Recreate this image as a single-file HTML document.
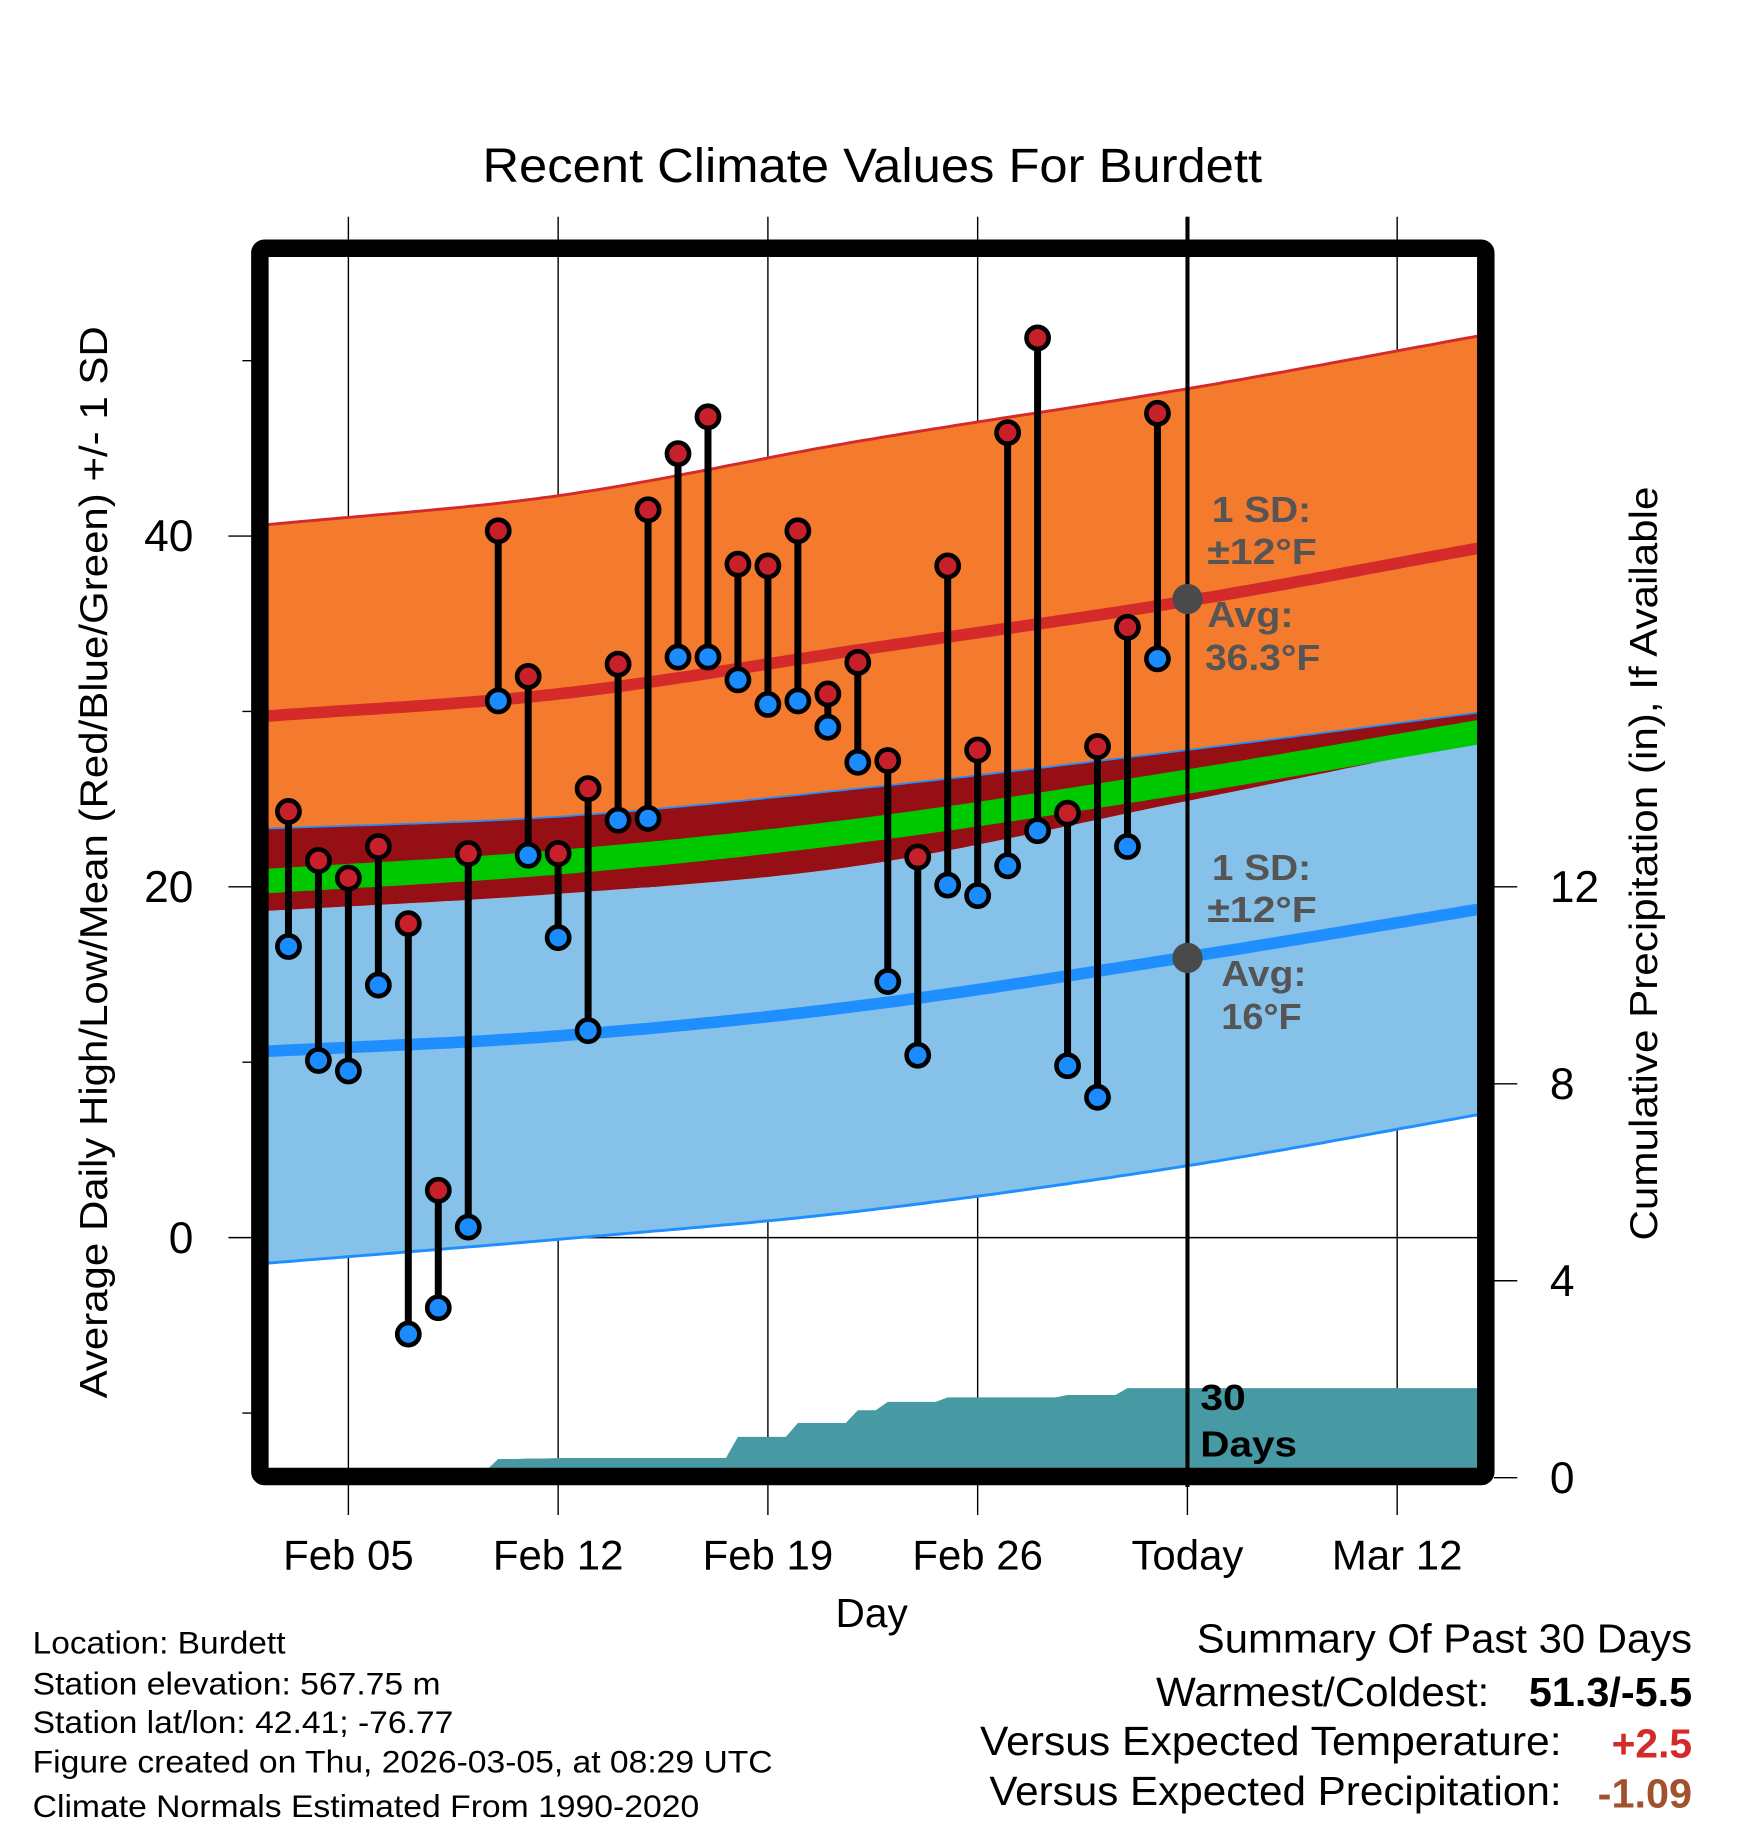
<!DOCTYPE html>
<html><head><meta charset="utf-8"><style>
html,body{margin:0;padding:0;background:#fff;}
svg{display:block;font-family:"Liberation Sans",Arial,sans-serif;}
</style></head><body>
<svg id="chart" width="1748" height="1828" viewBox="0 0 1500 1568.6" preserveAspectRatio="none" xmlns="http://www.w3.org/2000/svg">
<defs><clipPath id="plotclip"><rect x="230" y="220" width="1038" height="1040"/></clipPath></defs>
<text x="414" y="156" font-size="41" textLength="669" lengthAdjust="spacingAndGlyphs">Recent Climate Values For Burdett</text>
<g id="grid"></g>
<g id="bands" clip-path="url(#plotclip)"></g>
<g id="precip" clip-path="url(#plotclip)"></g>
<line x1="1019" y1="186" x2="1019" y2="1276" stroke="#000" stroke-width="3.5"/>
<g id="annot" font-weight="bold" font-size="31" fill="#555" lengthAdjust="spacingAndGlyphs">
<text x="1040" y="448" textLength="85" lengthAdjust="spacingAndGlyphs">1 SD:</text>
<text x="1036" y="484" textLength="94" lengthAdjust="spacingAndGlyphs">±12°F</text>
<circle cx="1019" cy="514" r="13" fill="#4a4a4a"/>
<text x="1036" y="538" textLength="74" lengthAdjust="spacingAndGlyphs">Avg:</text>
<text x="1034" y="575" textLength="99" lengthAdjust="spacingAndGlyphs">36.3°F</text>
<text x="1040" y="755" textLength="85" lengthAdjust="spacingAndGlyphs">1 SD:</text>
<text x="1036" y="791" textLength="94" lengthAdjust="spacingAndGlyphs">±12°F</text>
<circle cx="1019" cy="822" r="13" fill="#4a4a4a"/>
<text x="1048" y="846" textLength="73" lengthAdjust="spacingAndGlyphs">Avg:</text>
<text x="1048" y="883" textLength="69" lengthAdjust="spacingAndGlyphs">16°F</text>
<text x="1030" y="1210" fill="#000" textLength="39" lengthAdjust="spacingAndGlyphs">30</text>
<text x="1030" y="1250" fill="#000" textLength="83" lengthAdjust="spacingAndGlyphs">Days</text>
</g>
<g id="obs"></g>
<rect x="223" y="213" width="1052" height="1054" fill="none" stroke="#000" stroke-width="15" rx="4"/>
<g id="axes"></g>
<text x="717" y="1396" font-size="35" textLength="62" lengthAdjust="spacingAndGlyphs">Day</text>
<text transform="translate(92,740) rotate(-90)" font-size="33" text-anchor="middle" textLength="920" lengthAdjust="spacingAndGlyphs">Average Daily High/Low/Mean (Red/Blue/Green) +/- 1 SD</text>
<text transform="translate(1422,741) rotate(-90)" font-size="33" text-anchor="middle" textLength="647" lengthAdjust="spacingAndGlyphs">Cumulative Precipitation (in), If Available</text>
<g font-size="27">
<text x="28" y="1419" textLength="217" lengthAdjust="spacingAndGlyphs">Location: Burdett</text>
<text x="28" y="1454" textLength="350" lengthAdjust="spacingAndGlyphs">Station elevation: 567.75 m</text>
<text x="28" y="1487" textLength="361" lengthAdjust="spacingAndGlyphs">Station lat/lon: 42.41; -76.77</text>
<text x="28" y="1521" textLength="635" lengthAdjust="spacingAndGlyphs">Figure created on Thu, 2026-03-05, at 08:29 UTC</text>
<text x="28" y="1559" textLength="572" lengthAdjust="spacingAndGlyphs">Climate Normals Estimated From 1990-2020</text>
</g>
<g font-size="35">
<text x="1027" y="1418" textLength="425" lengthAdjust="spacingAndGlyphs">Summary Of Past 30 Days</text>
<text x="992" y="1464" textLength="286" lengthAdjust="spacingAndGlyphs">Warmest/Coldest:</text>
<text x="1312" y="1464" font-weight="bold" textLength="140" lengthAdjust="spacingAndGlyphs">51.3/-5.5</text>
<text x="841" y="1506" textLength="499" lengthAdjust="spacingAndGlyphs">Versus Expected Temperature:</text>
<text x="1383" y="1508" font-weight="bold" fill="#d42a2a" textLength="69" lengthAdjust="spacingAndGlyphs">+2.5</text>
<text x="849" y="1549" textLength="491" lengthAdjust="spacingAndGlyphs">Versus Expected Precipitation:</text>
<text x="1371" y="1551" font-weight="bold" fill="#a0522d" textLength="81" lengthAdjust="spacingAndGlyphs">-1.09</text>
</g>
</svg>
<script>
// Observed data, days since Feb 1 (Feb 3 = 2)
const obsDays = [2,3,4,5,6,7,8,9,10,11,12,13,14,15,16,17,18,19,20,21,22,23,24,25,26,27,28,29,30,31];
const highs = [24.3,21.5,20.5,22.3,17.9,2.7,21.9,40.3,32.0,21.9,25.6,32.7,41.5,44.7,46.8,38.4,38.3,40.3,31.0,32.8,27.2,21.7,38.3,27.8,45.9,51.3,24.2,28.0,34.8,47.0];
const lows = [16.6,10.1,9.5,14.4,-5.5,-4.0,0.6,30.6,21.8,17.1,11.8,23.8,23.9,33.1,33.1,31.8,30.4,30.6,29.1,27.1,14.6,10.4,20.1,19.5,21.2,23.2,9.8,8.0,22.3,33.0];
const precipCum = [0.15,0.15,0.15,0.15,0.15,0.15,0.15,0.38,0.39,0.40,0.40,0.40,0.40,0.40,0.40,0.83,0.83,1.11,1.11,1.37,1.54,1.54,1.63,1.63,1.63,1.63,1.68,1.68,1.82,1.82];
// Normals knots
const normDays = [1,11,21,32,42];
const hiTop = [40.6,42.3,45.4,48.4,51.5];
const hiAvg = [29.7,31.0,33.5,36.3,39.4];
const hiBot = [23.3,24.0,25.6,27.8,30.0];
const meanAvg = [20.3,21.4,23.2,26.0,28.9];
const loTop = [18.6,19.6,21.2,24.9,28.4];
const loAvg = [10.6,11.5,13.2,16.0,18.8];
const loBot = [-1.5,-0.1,1.5,4.1,7.1];
// Axis ticks
const xTickDays = [4,11,18,25,32,39];
const xTickLabels = ["Feb 05","Feb 12","Feb 19","Feb 26","Today","Mar 12"];
const yTicks = [0,20,40];
const yMinorTicks = [-10,10,30,50];
const y2Ticks = [0,4,8,12];

const X = d => 196.1 + d*25.714;
const Y = t => 1062 - t*15.05;
const Y2 = p => 1268 - p*42.25;
const NS = "http://www.w3.org/2000/svg";
function mk(tag, attrs, parent){const e=document.createElementNS(NS,tag);for(const k in attrs)e.setAttribute(k,attrs[k]);parent.appendChild(e);return e;}
function interp(vals,d){
  const n=normDays.length;let i=0;while(i<n-2&&d>normDays[i+1])i++;
  const x0=normDays[i],x1=normDays[i+1],h=x1-x0,t=(d-x0)/h;
  const tan=j=>{if(j===0)return (vals[1]-vals[0])/(normDays[1]-normDays[0]);if(j===n-1)return (vals[n-1]-vals[n-2])/(normDays[n-1]-normDays[n-2]);return (vals[j+1]-vals[j-1])/(normDays[j+1]-normDays[j-1]);};
  const m0=tan(i)*h,m1=tan(i+1)*h,t2=t*t,t3=t2*t;
  return (2*t3-3*t2+1)*vals[i]+(t3-2*t2+t)*m0+(-2*t3+3*t2)*vals[i+1]+(t3-t2)*m1;
}
const samp=[];for(let d=1;d<=42.01;d+=0.25)samp.push(d);
function linePts(vals,off){return samp.map(d=>X(d).toFixed(1)+","+Y(interp(vals,d)+(off||0)).toFixed(1));}
function band(top,bot,fill,o1,o2,name){
  const p=linePts(top,o1).concat(linePts(bot,o2).reverse());
  const e=mk("polygon",{points:p.join(" "),fill:fill},bands);
  
  
}
function line(vals,stroke,w,name){
  const e=mk("polyline",{points:linePts(vals).join(" "),fill:"none",stroke:stroke,"stroke-width":w},bands);
  
  
}
const bands=document.getElementById("bands");
band(hiTop,hiBot,"#f47a2e",0,0,"high-sd-band");
band(loTop,loBot,"#85c1e9",0,0,"low-sd-band");
band(hiBot,loTop,"#960f14",0,0,"overlap-band");
band(meanAvg,meanAvg,"#00c800",0.7,-0.7,"mean-band");
line(hiTop,"#d42a2a",2.5,"high-sd-top-line");
line(hiBot,"#1f8fff",1.5,"high-sd-bottom-line");
line(loBot,"#1f8fff",2.5,"low-sd-bottom-line");
line(hiAvg,"#d42a2a",10,"high-avg-line");
line(loAvg,"#1f8fff",10,"low-avg-line");

// precip step area
const pg=document.getElementById("precip");
let pp=[X(obsDays[0]-0.5)+","+Y2(0)];
obsDays.forEach((d,i)=>{pp.push(X(d-0.4)+","+Y2(i?precipCum[i-1]:0));pp.push(X(d)+","+Y2(precipCum[i]));});
pp.push(X(42)+","+Y2(precipCum[precipCum.length-1]));pp.push(X(42)+","+Y2(0));
const pa=mk("polygon",{points:pp.join(" "),fill:"#4799a3"},pg);



// grid + axes
const grid=document.getElementById("grid"),axes=document.getElementById("axes");
xTickDays.forEach((d,i)=>{
  const g=mk("line",{x1:X(d),x2:X(d),y1:186,y2:1300,stroke:"#000","stroke-width":1.2},grid);
  
  
  const t=mk("text",{x:X(d),y:1347,"font-size":36,"text-anchor":"middle"},axes);
  t.textContent=xTickLabels[i];
  
  
});
yTicks.forEach(v=>{
  const g=mk("line",{x1:196,x2:1268,y1:Y(v),y2:Y(v),stroke:"#000","stroke-width":1.2},grid);
  
  
  const t=mk("text",{x:166,y:Y(v)+13,"font-size":38,"text-anchor":"end"},axes);
  t.textContent=v;
  
  
});
yMinorTicks.forEach(v=>{
  const g=mk("line",{x1:208,x2:222,y1:Y(v),y2:Y(v),stroke:"#000","stroke-width":1.2},axes);
  
  
});
y2Ticks.forEach(v=>{
  const g=mk("line",{x1:1282,x2:1302,y1:Y2(v),y2:Y2(v),stroke:"#000","stroke-width":1.2},axes);
  
  
  const t=mk("text",{x:1330,y:Y2(v)+13,"font-size":38},axes);
  t.textContent=v;
  
  
});

// observations
const obs=document.getElementById("obs");
obsDays.forEach((d,i)=>{
  const s=mk("line",{x1:X(d),x2:X(d),y1:Y(highs[i]),y2:Y(lows[i]),stroke:"#000","stroke-width":6},obs);
  
  
  const h=mk("circle",{cx:X(d),cy:Y(highs[i]),r:9.5,fill:"#c8202a",stroke:"#000","stroke-width":4},obs);
  
  
  const l=mk("circle",{cx:X(d),cy:Y(lows[i]),r:9.5,fill:"#1a8cff",stroke:"#000","stroke-width":4},obs);
  
  
});
</script>
</body></html>
